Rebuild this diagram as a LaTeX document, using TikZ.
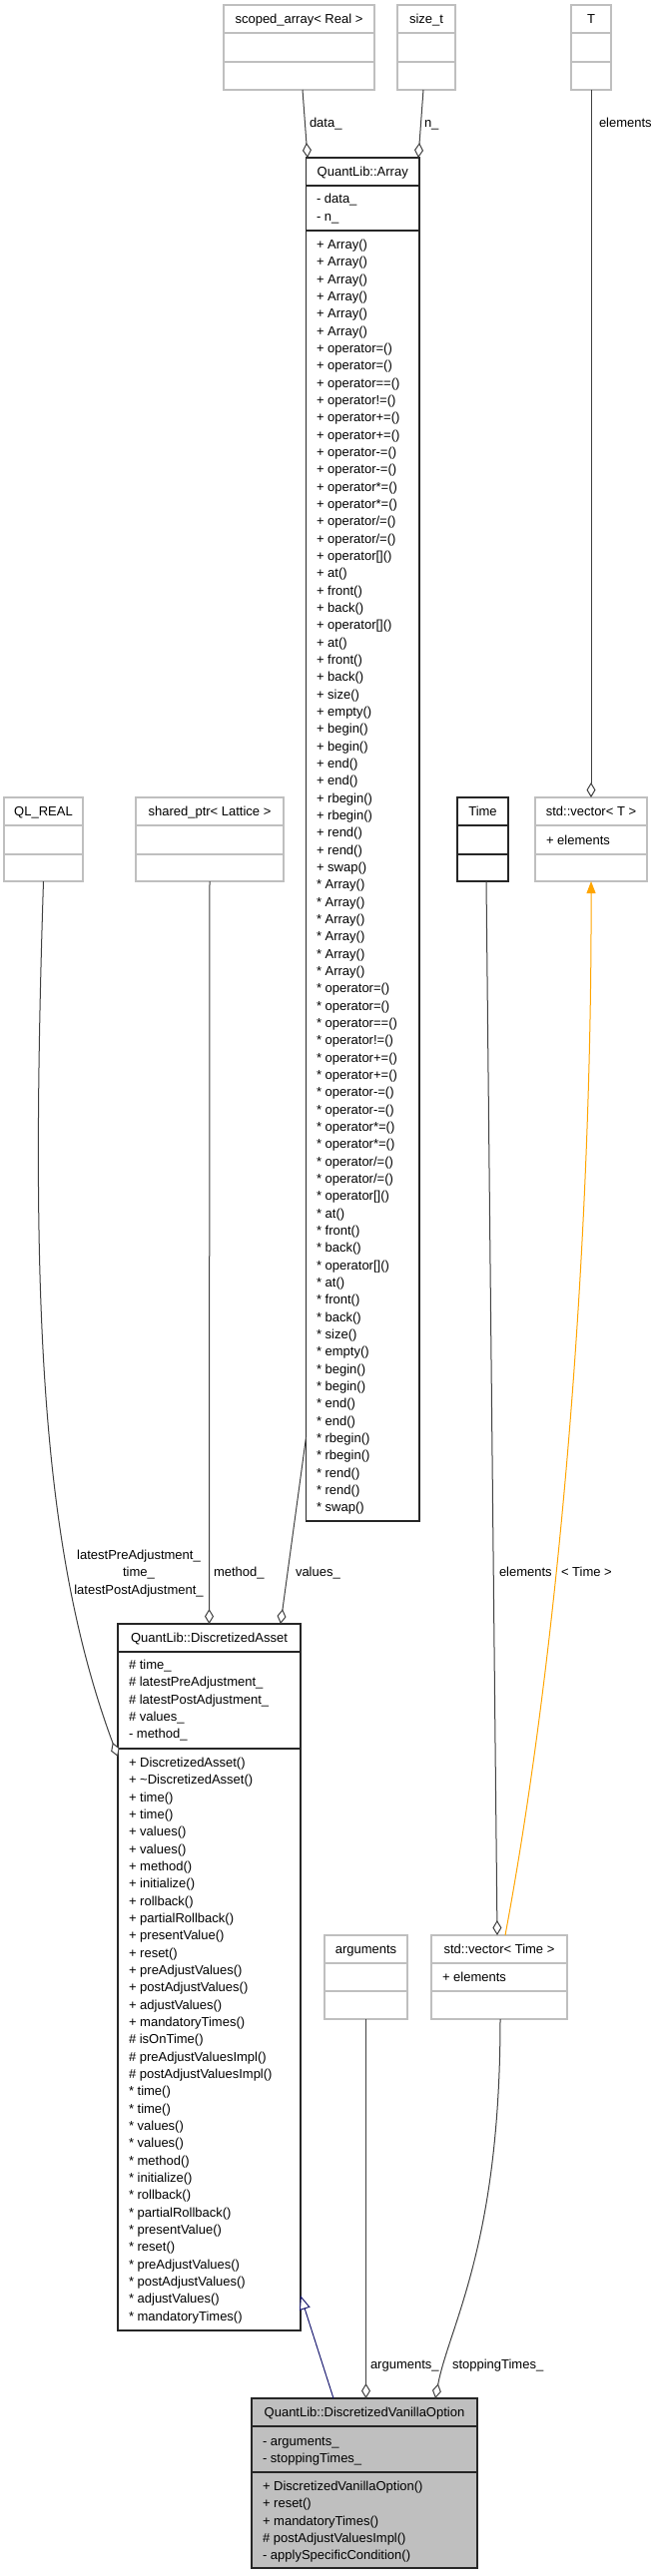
\documentclass[tikz,border=0pt]{standalone}
\usepackage{fontspec}
\setmainfont{Liberation Sans}
\usetikzlibrary{arrows.meta,calc}
\definecolor{boxgray}{HTML}{BFBFBF}
\definecolor{edgegray}{HTML}{404040}
\definecolor{navyedge}{HTML}{191970}
\definecolor{orangeedge}{HTML}{FFA500}
\newcommand\classbox[9]{%
  \node[#2, minimum width={#6-#4}, minimum height={#7-#5}] (#1) at (#4,#5) {};
  \draw[#3] (#4,#8) -- (#6,#8);
  \draw[#3] (#4,#9) -- (#6,#9);
}
\newcommand\members[4]{%
  \foreach \m [count=\k from 0] in {#4} {
    \node[member] (#3\k) at (#1, {#2+4.6+\k*17.33}) {\m};
  }
}
\begin{document}
\begin{tikzpicture}[x=1pt,y=-1pt,
  txt/.style={font=\fontsize{13}{16}\selectfont, inner sep=0pt, outer sep=0pt},
  member/.style={txt, anchor=base west},
  title/.style={txt, anchor=base},
  lbl/.style={txt, anchor=base west},
  lblc/.style={txt, anchor=base},
  graybox/.style={draw=boxgray, line width=1.3pt, fill=white, inner sep=0pt, outer sep=0pt, anchor=north west},
  blackbox/.style={draw=black!85, line width=1.4pt, fill=white, inner sep=0pt, outer sep=0pt, anchor=north west},
  focusbox/.style={blackbox, fill=boxgray},
  grayrule/.style={draw=boxgray, line width=1.3pt},
  blackrule/.style={draw=black!85, line width=1.4pt},
  agg/.style={draw=edgegray, line width=1pt, -{Diamond[fill=white, length=15pt, width=9pt, line width=1pt]}},
  inh/.style={draw=navyedge, line width=1pt, -{Triangle[fill=white, length=14pt, width=11pt, line width=1pt]}},
  tmpl/.style={draw=orangeedge, line width=1pt, {Triangle[length=12pt, width=9pt]}-},
]
\fill[white] (0,0) rectangle (653,2581);
\useasboundingbox (0,0) rectangle (653,2581);

% ---- boxes ----
\classbox{scoped}{graybox}{grayrule}{224}{5}{375}{90}{33}{62}
\classbox{sizet}{graybox}{grayrule}{398}{5}{456}{90}{33}{62}
\classbox{tt}{graybox}{grayrule}{572}{5}{612}{90}{33}{62}
\classbox{array}{blackbox}{blackrule}{306.5}{158}{420}{1524}{186}{231}
\classbox{qlreal}{graybox}{grayrule}{4}{799}{83}{883}{827}{856}
\classbox{shared}{graybox}{grayrule}{136}{799}{284}{883}{827}{856}
\classbox{time}{blackbox}{blackrule}{458}{799}{509}{883}{827}{856}
\classbox{vecT}{graybox}{grayrule}{536}{799}{648}{883}{827}{856}
\classbox{asset}{blackbox}{blackrule}{118}{1627}{301}{2335}{1655}{1752}
\classbox{args}{graybox}{grayrule}{325}{1939}{408}{2023}{1967}{1995}
\classbox{vecTime}{graybox}{grayrule}{432}{1939}{568}{2023}{1967}{1995}
\classbox{dvo}{focusbox}{blackrule}{252}{2403}{478}{2573}{2431}{2477}

% ---- titles ----
\node[title] (t-scoped) at (299.5,23.6) {scoped\_array< Real >};
\node[title] (t-sizet) at (427,23.6) {size\_t};
\node[title] (t-tt) at (592,23.6) {T};
\node[title] (t-array) at (363.25,176.6) {QuantLib::Array};
\node[title] (t-qlreal) at (43.5,817.6) {QL\_REAL};
\node[title] (t-shared) at (210,817.6) {shared\_ptr< Lattice >};
\node[title] (t-time) at (483.5,817.6) {Time};
\node[title] (t-vecT) at (592,817.6) {std::vector< T >};
\node[member] (m-vecT) at (547,846.1) {+ elements};
\node[title] (t-asset) at (209.5,1645.6) {QuantLib::DiscretizedAsset};
\node[title] (t-args) at (366.5,1957.6) {arguments};
\node[title] (t-vecTime) at (500,1957.6) {std::vector< Time >};
\node[member] (m-vecTime) at (443,1985.6) {+ elements};
\node[title] (t-dvo) at (365,2421.6) {QuantLib::DiscretizedVanillaOption};

% ---- members ----
\members{317}{199.3}{arrA}{- data\_,- n\_}
\members{317}{245}{arrO}{+ Array(),+ Array(),+ Array(),+ Array(),+ Array(),+ Array(),+ operator=(),+ operator=(),+ operator==(),+ operator!=(),+ operator+=(),+ operator+=(),+ operator-=(),+ operator-=(),+ operator*=(),+ operator*=(),+ operator/=(),+ operator/=(),+ operator[](),+ at(),+ front(),+ back(),+ operator[](),+ at(),+ front(),+ back(),+ size(),+ empty(),+ begin(),+ begin(),+ end(),+ end(),+ rbegin(),+ rbegin(),+ rend(),+ rend(),+ swap(),* Array(),* Array(),* Array(),* Array(),* Array(),* Array(),* operator=(),* operator=(),* operator==(),* operator!=(),* operator+=(),* operator+=(),* operator-=(),* operator-=(),* operator*=(),* operator*=(),* operator/=(),* operator/=(),* operator[](),* at(),* front(),* back(),* operator[](),* at(),* front(),* back(),* size(),* empty(),* begin(),* begin(),* end(),* end(),* rbegin(),* rbegin(),* rend(),* rend(),* swap()}
\members{129}{1668}{assA}{\# time\_,\# latestPreAdjustment\_,\# latestPostAdjustment\_,\# values\_,- method\_}
\members{129}{1766}{assO}{+ DiscretizedAsset(),+ \textasciitilde DiscretizedAsset(),+ time(),+ time(),+ values(),+ values(),+ method(),+ initialize(),+ rollback(),+ partialRollback(),+ presentValue(),+ reset(),+ preAdjustValues(),+ postAdjustValues(),+ adjustValues(),+ mandatoryTimes(),\# isOnTime(),\# preAdjustValuesImpl(),\# postAdjustValuesImpl(),* time(),* time(),* values(),* values(),* method(),* initialize(),* rollback(),* partialRollback(),* presentValue(),* reset(),* preAdjustValues(),* postAdjustValues(),* adjustValues(),* mandatoryTimes()}
\members{263}{2446}{dvoA}{- arguments\_,- stoppingTimes\_}
\members{263}{2491}{dvoO}{+ DiscretizedVanillaOption(),+ reset(),+ mandatoryTimes(),\# postAdjustValuesImpl(),- applySpecificCondition()}

% ---- connectors ----
\draw[agg] ($(scoped.south)+(3.5,0)$) -- ($(array.north west)+(1.5,0)$);
\draw[agg] ($(sizet.south)+(-3,0)$) -- ($(array.north east)+(-1,0)$);
\draw[agg] (tt.south) -- (vecT.north);
\draw[agg] (shared.south) -- (asset.north);
\draw[agg] ($(array.south west)+(0,-84)$) -- ($(asset.north east)+(-20,0)$);
\draw[agg] (qlreal.south) .. controls (30,1300) and (40,1550) .. ($(asset.north west)+(0,133)$);
\draw[agg] ($(time.south)+(3.5,0)$) -- ($(vecTime.north)+(-2,0)$);
\draw[tmpl] (vecT.south) .. controls (593,1250) and (560,1650) .. ($(vecTime.north)+(6,0)$);
\draw[agg] (args.south) -- (args.south |- dvo.north);
\draw[agg] ($(vecTime.south)+(1,0)$) .. controls (501,2250) and (450,2330) .. ($(dvo.north east)+(-42,0)$);
\draw[inh] ($(dvo.north west)+(82,0)$) -- ($(asset.south east)+(0,-35)$);

% ---- connector labels ----
\node[lbl] (l-data) at (310,127.6) {data\_};
\node[lbl] (l-n) at (425,127.6) {n\_};
\node[lbl] (l-elemT) at (600,127.6) {elements};
\node[lblc] (l-pre) at (139,1562.6) {latestPreAdjustment\_};
\node[lblc] (l-time) at (139,1579.6) {time\_};
\node[lblc] (l-post) at (139,1597.6) {latestPostAdjustment\_};
\node[lbl] (l-method) at (214,1579.6) {method\_};
\node[lbl] (l-values) at (296,1579.6) {values\_};
\node[lbl] (l-elemTime) at (500,1579.6) {elements};
\node[lbl] (l-tmpl) at (562,1579.6) {< Time >};
\node[lbl] (l-args) at (371,2373.6) {arguments\_};
\node[lbl] (l-stop) at (453,2373.6) {stoppingTimes\_};
\end{tikzpicture}
\end{document}
